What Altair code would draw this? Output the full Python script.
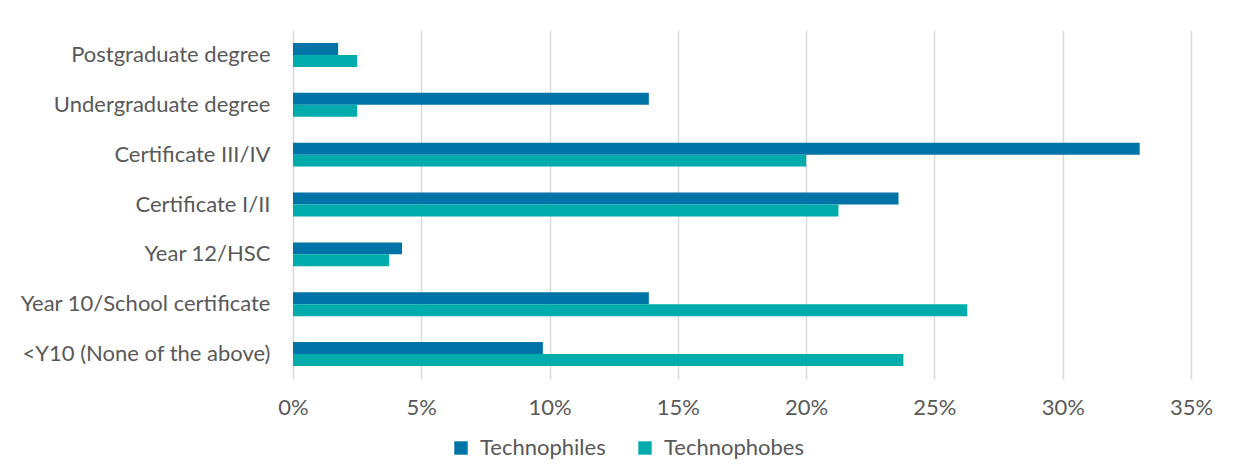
import altair as alt
import pandas as pd

categories = [
    "Postgraduate degree",
    "Undergraduate degree",
    "Certificate III/IV",
    "Certificate I/II",
    "Year 12/HSC",
    "Year 10/School certificate",
    "<Y10 (None of the above)",
]
series = ["Technophiles", "Technophobes"]
technophiles = [1.76, 13.87, 33.0, 23.6, 4.25, 13.87, 9.74]
technophobes = [2.5, 2.5, 20.0, 21.26, 3.75, 26.28, 23.79]
colors = ["#0073A7", "#00ABAB"]
x_ticks = [0, 0.05, 0.10, 0.15, 0.20, 0.25, 0.30, 0.35]

rows = []
for i, c in enumerate(categories):
    rows.append({"category": c, "series": series[0], "value": technophiles[i] / 100})
    rows.append({"category": c, "series": series[1], "value": technophobes[i] / 100})
df = pd.DataFrame(rows)

FONT = "Lato"
GREY = "#595959"
FS = 22

chart = (
    alt.Chart(df)
    .mark_bar()
    .encode(
        x=alt.X(
            "value:Q",
            scale=alt.Scale(domain=[0, 0.35], nice=False),
            axis=alt.Axis(
                values=x_ticks,
                format=".0%",
                title=None,
                domain=False,
                ticks=False,
                grid=True,
                gridColor="#D9D9D9",
                gridWidth=1.5,
                labelFont=FONT,
                labelFontSize=FS,
                labelColor=GREY,
                labelPadding=18,
                labelFlush=False,
                labelOverlap=False,
            ),
        ),
        y=alt.Y(
            "category:N",
            sort=categories,
            scale=alt.Scale(paddingInner=0.52, paddingOuter=0.26),
            axis=alt.Axis(
                title=None,
                domain=False,
                ticks=False,
                grid=False,
                labelFont=FONT,
                labelFontSize=FS,
                labelColor=GREY,
                labelPadding=23,
                labelLimit=400,
            ),
        ),
        yOffset=alt.YOffset(
            "series:N",
            sort=series,
            scale=alt.Scale(paddingInner=0, paddingOuter=0),
        ),
        color=alt.Color(
            "series:N",
            sort=series,
            scale=alt.Scale(domain=series, range=colors),
            legend=alt.Legend(
                title=None,
                orient="none",
                direction="horizontal",
                legendX=157,
                legendY=407,
                symbolType="square",
                symbolSize=180,
                symbolStrokeWidth=0,
                symbolOpacity=1,
                labelFont=FONT,
                labelFontSize=FS,
                labelColor=GREY,
                labelOffset=8,
                columnPadding=28,
            ),
        ),
    )
    .properties(
        width=898,
        height=349,
        background="white",
        autosize=alt.AutoSizeParams(type="none"),
        padding={"left": 285, "top": 22, "right": 40, "bottom": 80},
    )
    .configure_view(strokeWidth=0, stroke="transparent")
)

chart.save("out.html", embed_options={"renderer": "svg", "actions": False})
